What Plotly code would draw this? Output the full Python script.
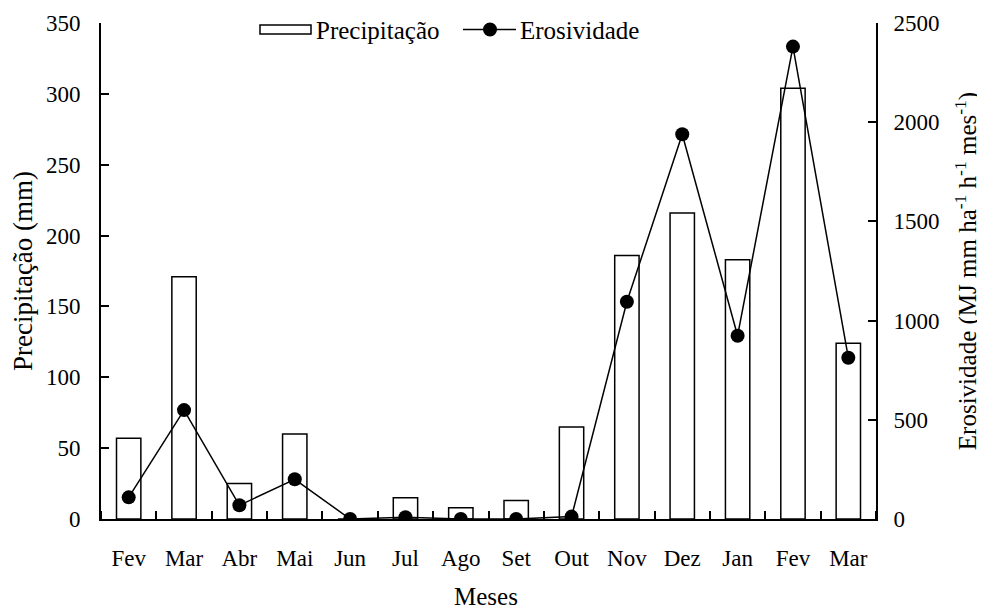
import plotly.graph_objects as go

meses = ["Fev", "Mar", "Abr", "Mai", "Jun", "Jul", "Ago", "Set", "Out", "Nov", "Dez", "Jan", "Fev", "Mar"]
precipitacao = [57, 171, 25, 60, 0, 15, 8, 13, 65, 186, 216, 183, 304, 124]
erosividade = [109, 549, 69, 200, 0, 9, 0, 0, 12, 1095, 1939, 924, 2381, 813]
y1_ticks = [0, 50, 100, 150, 200, 250, 300, 350]
y2_ticks = [0, 500, 1000, 1500, 2000, 2500]

x = list(range(len(meses)))
FONT = "Liberation Serif, Times New Roman, serif"

fig = go.Figure()
fig.add_trace(go.Bar(x=x, y=precipitacao, width=0.44, marker=dict(color="white", line=dict(color="black", width=1.5)),
                     name="Precipitação", showlegend=False))
fig.add_trace(go.Scatter(x=x, y=erosividade, yaxis="y2", mode="lines+markers",
                         line=dict(color="black", width=1.5), marker=dict(color="black", size=14),
                         name="Erosividade", showlegend=False))

# page body has an 8px margin; figure is sized to fill the rest of the window
OFF = 8
FW, FH = 985 - OFF, 613 - OFF
L, R, T, B = 101, 876, 23, 519  # plot area in window pixels
W = R - L
H = B - T
def px(xp):
    return (xp - L) / W
def py(yp):
    return (B - yp) / H

shapes = [
    dict(type="rect", xref="paper", yref="paper", x0=px(260), x1=px(311), y0=py(34), y1=py(25),
         line=dict(color="black", width=1.5), fillcolor="white"),
    dict(type="line", xref="paper", yref="paper", x0=px(463), x1=px(516), y0=py(29.5), y1=py(29.5),
         line=dict(color="black", width=1.5)),
    dict(type="circle", xref="paper", yref="paper", x0=px(483), x1=px(497), y0=py(36.5), y1=py(22.5),
         line=dict(color="black", width=0), fillcolor="black"),
]
annotations = [
    dict(text="Precipitação", xref="paper", yref="paper", x=px(314), y=py(30), xanchor="left", yanchor="middle",
         showarrow=False, font=dict(size=25, color="black", family=FONT)),
    dict(text="Erosividade", xref="paper", yref="paper", x=px(518), y=py(30), xanchor="left", yanchor="middle",
         showarrow=False, font=dict(size=25, color="black", family=FONT)),
    dict(text="Meses", xref="paper", yref="paper", x=px(486), y=py(612), xanchor="center", yanchor="bottom",
         showarrow=False, font=dict(size=25, color="black", family=FONT)),
]

fig.update_layout(
    width=FW, height=FH,
    margin=dict(l=L - OFF, r=FW - (R - OFF), t=T - OFF, b=FH - (B - OFF), autoexpand=False),
    paper_bgcolor="white", plot_bgcolor="white",
    font=dict(family=FONT, size=23, color="black"),
    shapes=shapes, annotations=annotations,
    xaxis=dict(range=[-0.5, len(meses) - 0.5], tickvals=x, ticktext=meses, ticks="", ticklen=0,
               showline=True, linecolor="black", linewidth=2, showgrid=False, zeroline=False,
               ticklabelstandoff=17, automargin=False,
               minor=dict(tick0=0.5, dtick=1, ticks="inside", ticklen=8, tickcolor="black", tickwidth=1.5, showgrid=False)),
    yaxis=dict(range=[0, 350], tickvals=y1_ticks, ticks="inside", ticklen=8, tickwidth=1.5, tickcolor="black",
               showline=True, linecolor="black", linewidth=2, showgrid=False, zeroline=False,
               ticklabelstandoff=14, automargin=False,
               title=dict(text="Precipitação (mm)", standoff=5, font=dict(size=27))),
    yaxis2=dict(range=[0, 2500], tickvals=y2_ticks, overlaying="y", side="right", ticks="inside", ticklen=8,
                tickwidth=1.5, tickcolor="black", showline=True, linecolor="black", linewidth=2,
                showgrid=False, zeroline=False, ticklabelstandoff=11, automargin=False,
                title=dict(text="Erosividade (MJ mm ha<sup>-1</sup> h<sup>-1</sup> mes<sup>-1</sup>)", standoff=20,
                           font=dict(size=25))),
)

fig.write_html("out.html")
